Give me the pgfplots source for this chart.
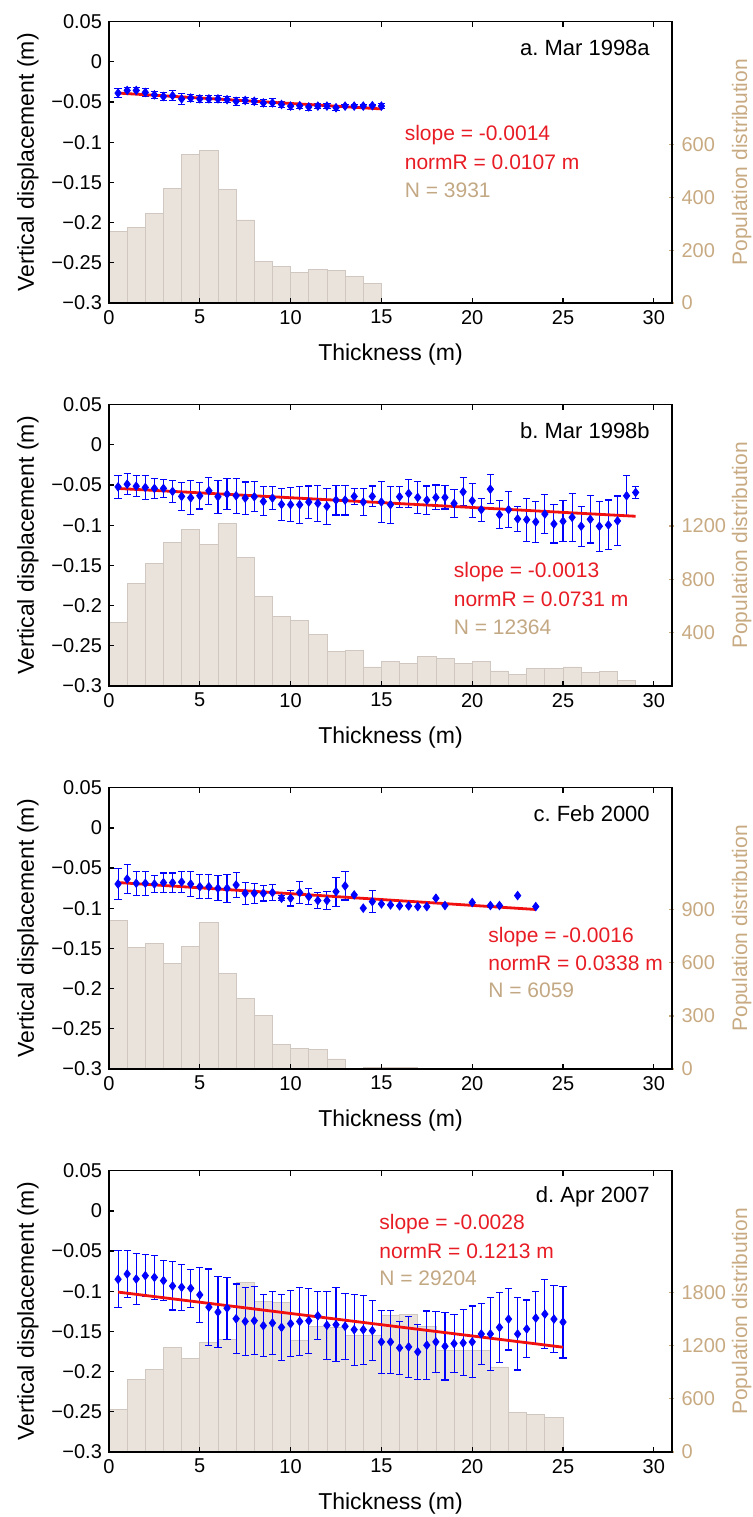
\documentclass[border=0pt]{standalone}
\usepackage{pgfplots}
\pgfplotsset{compat=1.18}
\usepackage{pgfplotstable}
\usepackage{fontspec}
\setmainfont{Liberation Sans}
\frenchspacing
\definecolor{tanc}{RGB}{200,170,130}
\definecolor{ntan}{RGB}{195,168,132}
\definecolor{barfill}{RGB}{233,227,219}
\definecolor{baredge}{RGB}{208,200,192}
\definecolor{annred}{RGB}{232,28,36}
\definecolor{linered}{RGB}{240,16,16}
\definecolor{ptblue}{RGB}{0,0,255}

% ---------------- data ----------------
\pgfplotstableread{
x y e
0.5 -0.0388 0.006
1.0 -0.0355 0.004
1.5 -0.0355 0.004
2.0 -0.038 0.005
2.5 -0.041 0.004
3.0 -0.043 0.005
3.5 -0.042 0.006
4.0 -0.046 0.007
4.5 -0.045 0.004
5.0 -0.046 0.004
5.5 -0.046 0.004
6.0 -0.046 0.004
6.5 -0.047 0.004
7.0 -0.049 0.005
7.5 -0.048 0.004
8.0 -0.049 0.004
8.5 -0.051 0.004
9.0 -0.051 0.005
9.5 -0.053 0.004
10.0 -0.055 0.004
10.5 -0.0545 0.003
11.0 -0.056 0.004
11.5 -0.055 0.003
12.0 -0.055 0.003
12.5 -0.057 0.003
13.0 -0.055 0.002
13.5 -0.055 0.002
14.0 -0.055 0.002
14.5 -0.0545 0.002
15.0 -0.055 0.003
}\ptsA
\pgfplotstableread{
x n
0 271
1 286
2 341
3 434
4 562
5 577
6 432
7 315
8 156
9 138
10 116
11 129
12 123
13 102
14 75
15 0
}\barA

\pgfplotstableread{
x y e
0.5 -0.0522 0.0144
1.0 -0.0489 0.0128
1.5 -0.0514 0.013
2.0 -0.0530 0.0144
2.5 -0.0542 0.0124
3.0 -0.0542 0.0113
3.5 -0.0579 0.014
4.0 -0.0641 0.017
4.5 -0.0658 0.021
5.0 -0.0633 0.0165
5.5 -0.0571 0.017
6.0 -0.0645 0.0206
6.5 -0.0612 0.019
7.0 -0.0633 0.022
7.5 -0.0662 0.020
8.0 -0.0645 0.0185
8.5 -0.0703 0.018
9.0 -0.0662 0.0144
9.5 -0.0740 0.020
10.0 -0.0744 0.0214
10.5 -0.0744 0.023
11.0 -0.0711 0.020
11.5 -0.0728 0.022
12.0 -0.0765 0.022
12.5 -0.0687 0.0185
13.0 -0.0687 0.0185
13.5 -0.0641 0.010
14.0 -0.0711 0.0165
14.5 -0.0641 0.013
15.0 -0.0711 0.026
15.5 -0.0744 0.023
16.0 -0.0645 0.013
16.5 -0.0604 0.0175
17.0 -0.0654 0.0198
17.5 -0.0687 0.0175
18.0 -0.0654 0.0155
18.5 -0.0654 0.0144
19.0 -0.0728 0.017
19.5 -0.0584 0.0175
20.0 -0.0695 0.021
20.5 -0.0806 0.0144
21.0 -0.0551 0.018
21.5 -0.0868 0.0175
22.0 -0.0806 0.0227
22.5 -0.0921 0.016
23.0 -0.0930 0.0268
23.5 -0.0958 0.0253
24.0 -0.0860 0.0243
24.5 -0.0983 0.0237
25.0 -0.0950 0.0253
25.5 -0.0901 0.030
26.0 -0.1012 0.0247
26.5 -0.0926 0.0295
27.0 -0.1012 0.031
27.5 -0.0996 0.031
28.0 -0.0946 0.031
28.5 -0.0633 0.0247
29.0 -0.0592 0.0078
}\ptsB
\pgfplotstableread{
x n
0 475
1 768
2 920
3 1078
4 1173
5 1063
6 1218
7 963
8 675
9 525
10 490
11 385
12 260
13 270
14 143
15 185
16 170
17 223
18 208
19 170
20 183
21 113
22 85
23 133
24 133
25 143
26 100
27 110
28 45
29 0
}\barB

\pgfplotstableread{
x y e
0.5 -0.0698 0.019
1.0 -0.0636 0.018
1.5 -0.0689 0.015
2.0 -0.0689 0.015
2.5 -0.0698 0.011
3.0 -0.0681 0.012
3.5 -0.0681 0.012
4.0 -0.0673 0.0135
4.5 -0.0698 0.016
5.0 -0.0731 0.0147
5.5 -0.0731 0.0147
6.0 -0.0751 0.0157
6.5 -0.0751 0.0175
7.0 -0.0710 0.016
7.5 -0.0813 0.0138
8.0 -0.0813 0.0124
8.5 -0.0813 0.0097
9.0 -0.0805 0.0099
9.5 -0.0875 0.003
10.0 -0.0875 0.0097
10.5 -0.0805 0.014
11.0 -0.0855 0.0099
11.5 -0.0904 0.0103
12.0 -0.0904 0.011
12.5 -0.0793 0.018
13.0 -0.0722 0.0175
14.5 -0.0917 0.014
}\ptsC
\pgfplotstableread{
x y
13.5 -0.0834
14.0 -0.0999
15.0 -0.0946
15.5 -0.0958
16.0 -0.0970
16.5 -0.0970
17.0 -0.0979
17.5 -0.0979
18.0 -0.0875
18.5 -0.0966
20.0 -0.0929
21.0 -0.0966
21.5 -0.0966
22.5 -0.0842
23.5 -0.0979
}\ptsCsingle
\pgfplotstableread{
x n
0 839
1 689
2 711
3 596
4 694
5 826
6 538
7 400
8 302
9 141
10 117
11 113
12 57
13 2
14 8
15 8
16 8
17 3
18 3
19 0
20 3
21 0
22 0
23 3
24 0
}\barC

\pgfplotstableread{
x y e
0.5 -0.0851 0.0356
1.0 -0.0785 0.0288
1.5 -0.0847 0.0313
2.0 -0.0806 0.0264
2.5 -0.0827 0.0274
3.0 -0.0868 0.0247
3.5 -0.0934 0.0299
4.0 -0.0950 0.0284
4.5 -0.0963 0.0235
5.0 -0.1045 0.0342
5.5 -0.1197 0.0474
6.0 -0.1259 0.0443
6.5 -0.1210 0.0387
7.0 -0.1342 0.0433
7.5 -0.1375 0.0424
8.0 -0.1366 0.0424
8.5 -0.1428 0.0385
9.0 -0.1395 0.0391
9.5 -0.1449 0.0414
10.0 -0.1403 0.0408
10.5 -0.1375 0.042
11.0 -0.1366 0.0406
11.5 -0.1305 0.030
12.0 -0.1424 0.0426
12.5 -0.1416 0.046
13.0 -0.1436 0.041
13.5 -0.1478 0.044
14.0 -0.1478 0.043
14.5 -0.1490 0.0375
15.0 -0.1630 0.039
15.5 -0.1630 0.039
16.0 -0.1704 0.033
16.5 -0.1692 0.0377
17.0 -0.1754 0.034
17.5 -0.1671 0.0426
18.0 -0.1630 0.038
18.5 -0.1684 0.042
19.0 -0.1651 0.0365
19.5 -0.1642 0.041
20.0 -0.1630 0.0447
20.5 -0.1531 0.0377
21.0 -0.1531 0.0453
21.5 -0.1449 0.0439
22.0 -0.1346 0.0385
22.5 -0.1531 0.0449
23.0 -0.1469 0.036
23.5 -0.1333 0.033
24.0 -0.1284 0.0428
24.5 -0.1346 0.0414
25.0 -0.1383 0.0447
}\ptsD
\pgfplotstableread{
x n
0 479
1 815
2 928
3 1177
4 1052
5 1230
6 1267
7 1913
8 1698
9 1686
10 1253
11 1411
12 1403
13 1313
14 1313
15 1539
16 1550
17 1415
18 1143
19 1140
20 1143
21 959
22 449
23 419
24 393
25 0
}\barD

\pgfplotsset{
  panel/.style={scale only axis, width=281.5pt, height=140.65pt,
    xmin=0, xmax=31, tick align=inside, major tick length=2.5pt,
    /pgf/number format/assume math mode=true,
    /pgf/number format/1000 sep={},
    tick label style={font=\fontsize{10}{11}\selectfont},
    label style={font=\fontsize{11.5}{13}\selectfont},
    every tick/.style={line width=0.6pt},
    axis line style={-, line width=0.7pt}},
  leftax/.style={panel, ymin=-0.3, ymax=0.05,
    ytick={-0.3,-0.25,-0.2,-0.15,-0.1,-0.05,0,0.05},
    yticklabels={−0.3,−0.25,−0.2,−0.15,−0.1,−0.05,0,0.05},
    xtick={0,5,10,15,20,25,30}, ytick pos=left,
    xlabel={Thickness (m)}, ylabel={Vertical displacement (m)},
    xlabel style={at={(axis description cs:0.5,-0.182)}, anchor=center},
    ylabel style={at={(axis description cs:-0.144,0.5)}, anchor=center},
    clip=false},
  rightax/.style={panel, ymin=0, axis x line=none,
    every non boxed y axis/.append style={y axis line style={-}},
    axis y line=right, y axis line style={-},
    yticklabel style={text=tanc}, ytick style={draw=tanc},
    ylabel={Population distribution},
    ylabel style={text=tanc, font=\fontsize{10.5}{12}\selectfont,
      at={(axis description cs:1.124,0.5)}, anchor=center}},
}
\tikzset{
  bars/.style={ybar interval, fill=barfill, draw=baredge, line width=0.4pt},
  fitl/.style={linered, line width=1.4pt},
  ttl/.style={anchor=east, font=\fontsize{11}{13}\selectfont},
  ann/.style={anchor=west, font=\fontsize{10.5}{12}\selectfont},
}
\pgfplotsset{
  pts/.style={only marks, mark=diamond*, mark size=2.1pt, color=ptblue,
    error bars/.cd, y dir=both, y explicit, error mark=-,
    error bar style={ptblue, line width=0.55pt},
    error mark options={ptblue, mark size=1.8pt, line width=0.55pt, rotate=90}},
}

\begin{document}
\begin{tikzpicture}
% ---------- panel a ----------
\begin{axis}[rightax, at={(54.5pt,-151.5pt)}, anchor=south west, ymax=1067, ytick={0,200,400,600}]
\addplot[bars] table[x=x,y=n]{\barA};
\end{axis}
\begin{axis}[leftax, at={(54.5pt,-151.5pt)}, anchor=south west]
\addplot[pts] table[x=x,y=y,y error=e]{\ptsA};
\addplot[fitl] coordinates {(0.5,-0.0388) (15,-0.0585)};
\node[ttl] at (rel axis cs:0.973,0.907) {a. Mar 1998a};
\node[ann, text=annred] at (axis cs:15.9,-0.0907) {slope = -0.0014};
\node[ann, text=annred] at (axis cs:15.9,-0.1244) {normR = 0.0107 m};
\node[ann, text=ntan] at (axis cs:15.9,-0.1593) {N = 3931};
\end{axis}

% ---------- panel b ----------
\begin{axis}[rightax, at={(54.5pt,-343pt)}, anchor=south west, ymax=2110, ytick={400,800,1200}]
\addplot[bars] table[x=x,y=n]{\barB};
\end{axis}
\begin{axis}[leftax, at={(54.5pt,-343pt)}, anchor=south west]
\addplot[pts] table[x=x,y=y,y error=e]{\ptsB};
\addplot[fitl] coordinates {(0.5,-0.0542) (29,-0.0888)};
\node[ttl] at (rel axis cs:0.973,0.907) {b. Mar 1998b};
\node[ann, text=annred] at (axis cs:18.6,-0.158) {slope = -0.0013};
\node[ann, text=annred] at (axis cs:18.6,-0.1916) {normR = 0.0731 m};
\node[ann, text=ntan] at (axis cs:18.6,-0.2265) {N = 12364};
\end{axis}

% ---------- panel c ----------
\begin{axis}[rightax, at={(54.5pt,-534.5pt)}, anchor=south west, ymax=1590, ytick={0,300,600,900}]
\addplot[bars] table[x=x,y=n]{\barC};
\end{axis}
\begin{axis}[leftax, at={(54.5pt,-534.5pt)}, anchor=south west]
\addplot[pts] table[x=x,y=y,y error=e]{\ptsC};
\addplot[only marks, mark=diamond*, mark size=2.1pt, color=ptblue] table[x=x,y=y]{\ptsCsingle};
\addplot[fitl] coordinates {(0.5,-0.068) (23.5,-0.1015)};
\node[ttl] at (rel axis cs:0.973,0.907) {c. Feb 2000};
\node[ann, text=annred] at (axis cs:20.5,-0.1356) {slope = -0.0016};
\node[ann, text=annred] at (axis cs:20.5,-0.168) {normR = 0.0338 m};
\node[ann, text=ntan] at (axis cs:20.5,-0.2016) {N = 6059};
\end{axis}

% ---------- panel d ----------
\begin{axis}[rightax, at={(54.5pt,-726pt)}, anchor=south west, ymax=3170, ytick={0,600,1200,1800}]
\addplot[bars] table[x=x,y=n]{\barD};
\end{axis}
\begin{axis}[leftax, at={(54.5pt,-726pt)}, anchor=south west]
\addplot[pts] table[x=x,y=y,y error=e]{\ptsD};
\addplot[fitl] coordinates {(0.5,-0.101) (25,-0.1696)};
\node[ttl] at (rel axis cs:0.973,0.907) {d. Apr 2007};
\node[ann, text=annred] at (axis cs:14.5,-0.016) {slope = -0.0028};
\node[ann, text=annred] at (axis cs:14.5,-0.0497) {normR = 0.1213 m};
\node[ann, text=ntan] at (axis cs:14.5,-0.0833) {N = 29204};
\end{axis}

\pgfresetboundingbox
\path[use as bounding box] (0,0) rectangle (376.5pt,-758.5pt);
\end{tikzpicture}
\end{document}
